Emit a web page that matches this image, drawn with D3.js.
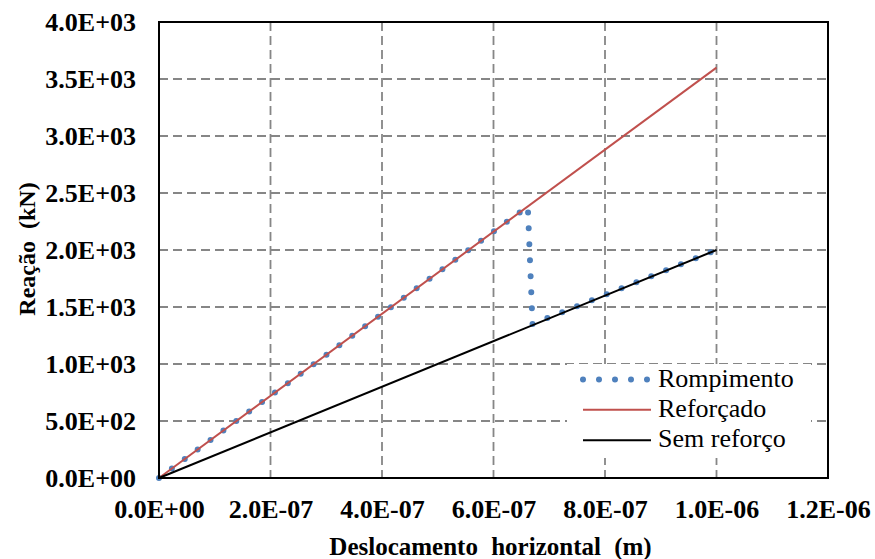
<!DOCTYPE html>
<html>
<head>
<meta charset="utf-8">
<script src="https://cdn.jsdelivr.net/npm/d3@7"></script>
<style>
  html, body { margin: 0; padding: 0; background: #ffffff; }
  svg { display: block; }
  svg text { font-family: "Liberation Serif", "DejaVu Serif", serif; fill: #000; }
</style>
</head>
<body>
<svg id="chart" width="875" height="559"></svg>
<script>
// ---- Data ----
const seriesNames = ["Rompimento", "Reforçado", "Sem reforço"];
const rompimentoX = [0, 6.47e-7, 6.62e-7, 6.70e-7, 1.0e-6];
const rompimentoY = [0, 2330, 2330, 1350, 2000];
const reforcadoX = [0, 1.0e-6];
const reforcadoY = [0, 3600];
const semReforcoX = [0, 1.0e-6];
const semReforcoY = [0, 2000];
const xTickValues = [0, 2e-7, 4e-7, 6e-7, 8e-7, 1.0e-6, 1.2e-6];
const xTickLabels = ["0.0E+00", "2.0E-07", "4.0E-07", "6.0E-07", "8.0E-07", "1.0E-06", "1.2E-06"];
const yTickValues = [0, 500, 1000, 1500, 2000, 2500, 3000, 3500, 4000];
const yTickLabels = ["0.0E+00", "5.0E+02", "1.0E+03", "1.5E+03", "2.0E+03", "2.5E+03", "3.0E+03", "3.5E+03", "4.0E+03"];
const xTitle = "Deslocamento horizontal (m)";
const yTitle = "Reação (kN)";

(function () {
// ---- Layout ----
const svg = d3.select("#chart");
const pLeft = 159, pRight = 828, pTop = 22, pBottom = 478;
const x = d3.scaleLinear().domain([0, 1.2e-6]).range([pLeft, pRight]);
const y = d3.scaleLinear().domain([0, 4000]).range([pBottom, pTop]);

const serif = "Liberation Serif";
const colBlue = "#4f81bd", colRed = "#c0504d", colBlack = "#000000", colGrid = "#868686";

// gridlines
const g = svg.append("g");
g.selectAll("line.vg").data(xTickValues.filter(v => v > 0 && v < 1.2e-6)).enter()
  .append("line")
  .attr("x1", d => x(d)).attr("x2", d => x(d))
  .attr("y1", pTop).attr("y2", pBottom)
  .attr("stroke", colGrid).attr("stroke-width", 1.8).attr("stroke-dasharray", "9,5");
g.selectAll("line.hg").data(yTickValues.filter(v => v > 0 && v < 4000)).enter()
  .append("line")
  .attr("x1", pLeft).attr("x2", pRight)
  .attr("y1", d => y(d)).attr("y2", d => y(d))
  .attr("stroke", colGrid).attr("stroke-width", 1.8).attr("stroke-dasharray", "9,5");

// axes (labels only)
const xAxis = d3.axisBottom(x).tickValues(xTickValues)
  .tickFormat((d, i) => xTickLabels[i]).tickSize(0).tickPadding(0);
const xa = svg.append("g").attr("transform", `translate(0,${pBottom})`).call(xAxis)
  .attr("font-family", serif);
xa.select(".domain").remove();
xa.selectAll("text").attr("dy", null).attr("y", 40)
  .attr("font-family", serif).attr("font-size", 26).attr("font-weight", "bold");

const yAxis = d3.axisLeft(y).tickValues(yTickValues)
  .tickFormat((d, i) => yTickLabels[i]).tickSize(0).tickPadding(0);
const ya = svg.append("g").attr("transform", `translate(${pLeft},0)`).call(yAxis)
  .attr("font-family", serif);
ya.select(".domain").remove();
ya.selectAll("text").attr("x", -23).attr("dy", "0.33em")
  .attr("font-family", serif).attr("font-size", 26).attr("font-weight", "bold");

// lines
const mk = (xs, ys) => xs.map((v, i) => [v, ys[i]]);
const line = d3.line().x(d => x(d[0])).y(d => y(d[1]));

// Rompimento: round-dot pattern restarts at every data point (as in the source chart)
svg.append("g").selectAll("path").data(d3.pairs(mk(rompimentoX, rompimentoY))).enter()
  .append("path")
  .attr("d", line).attr("fill", "none").attr("stroke", colBlue)
  .attr("stroke-width", 6).attr("stroke-linecap", "round").attr("stroke-dasharray", "0,16");
svg.append("path").datum(mk(reforcadoX, reforcadoY))
  .attr("d", line).attr("fill", "none").attr("stroke", colRed).attr("stroke-width", 2);
svg.append("path").datum(mk(semReforcoX, semReforcoY))
  .attr("d", line).attr("fill", "none").attr("stroke", colBlack).attr("stroke-width", 2);

// plot border
svg.append("rect").attr("x", pLeft).attr("y", pTop)
  .attr("width", pRight - pLeft).attr("height", pBottom - pTop)
  .attr("fill", "none").attr("stroke", "#000").attr("stroke-width", 2);

// axis titles
svg.append("text").attr("x", (pLeft + pRight) / 2 - 3).attr("y", 555)
  .attr("text-anchor", "middle").attr("font-family", serif).attr("font-size", 25)
  .attr("font-weight", "bold").style("word-spacing", "7px").text(xTitle);
svg.append("text").attr("transform", "translate(35,249) rotate(-90)")
  .attr("text-anchor", "middle").attr("font-family", serif).attr("font-size", 24)
  .attr("font-weight", "bold").style("word-spacing", "6px").text(yTitle);

// legend
const lg = svg.append("g");
lg.append("rect").attr("x", 567).attr("y", 364).attr("width", 244).attr("height", 94).attr("fill", "#fff");
const legY = [379.5, 409.7, 440.3];
const legStyles = [
  {c: colBlue, w: 6, dash: "0,16", cap: "round"},
  {c: colRed, w: 2, dash: null, cap: "butt"},
  {c: colBlack, w: 2, dash: null, cap: "butt"}
];
seriesNames.forEach((name, i) => {
  const s = legStyles[i];
  lg.append("line").attr("x1", 583).attr("x2", 651).attr("y1", legY[i]).attr("y2", legY[i])
    .attr("stroke", s.c).attr("stroke-width", s.w).attr("stroke-linecap", s.cap)
    .attr("stroke-dasharray", s.dash);
  lg.append("text").attr("x", 658).attr("y", legY[i] + 7)
    .attr("font-family", serif).attr("font-size", 26).text(name);
});
})();
</script>
</body>
</html>
